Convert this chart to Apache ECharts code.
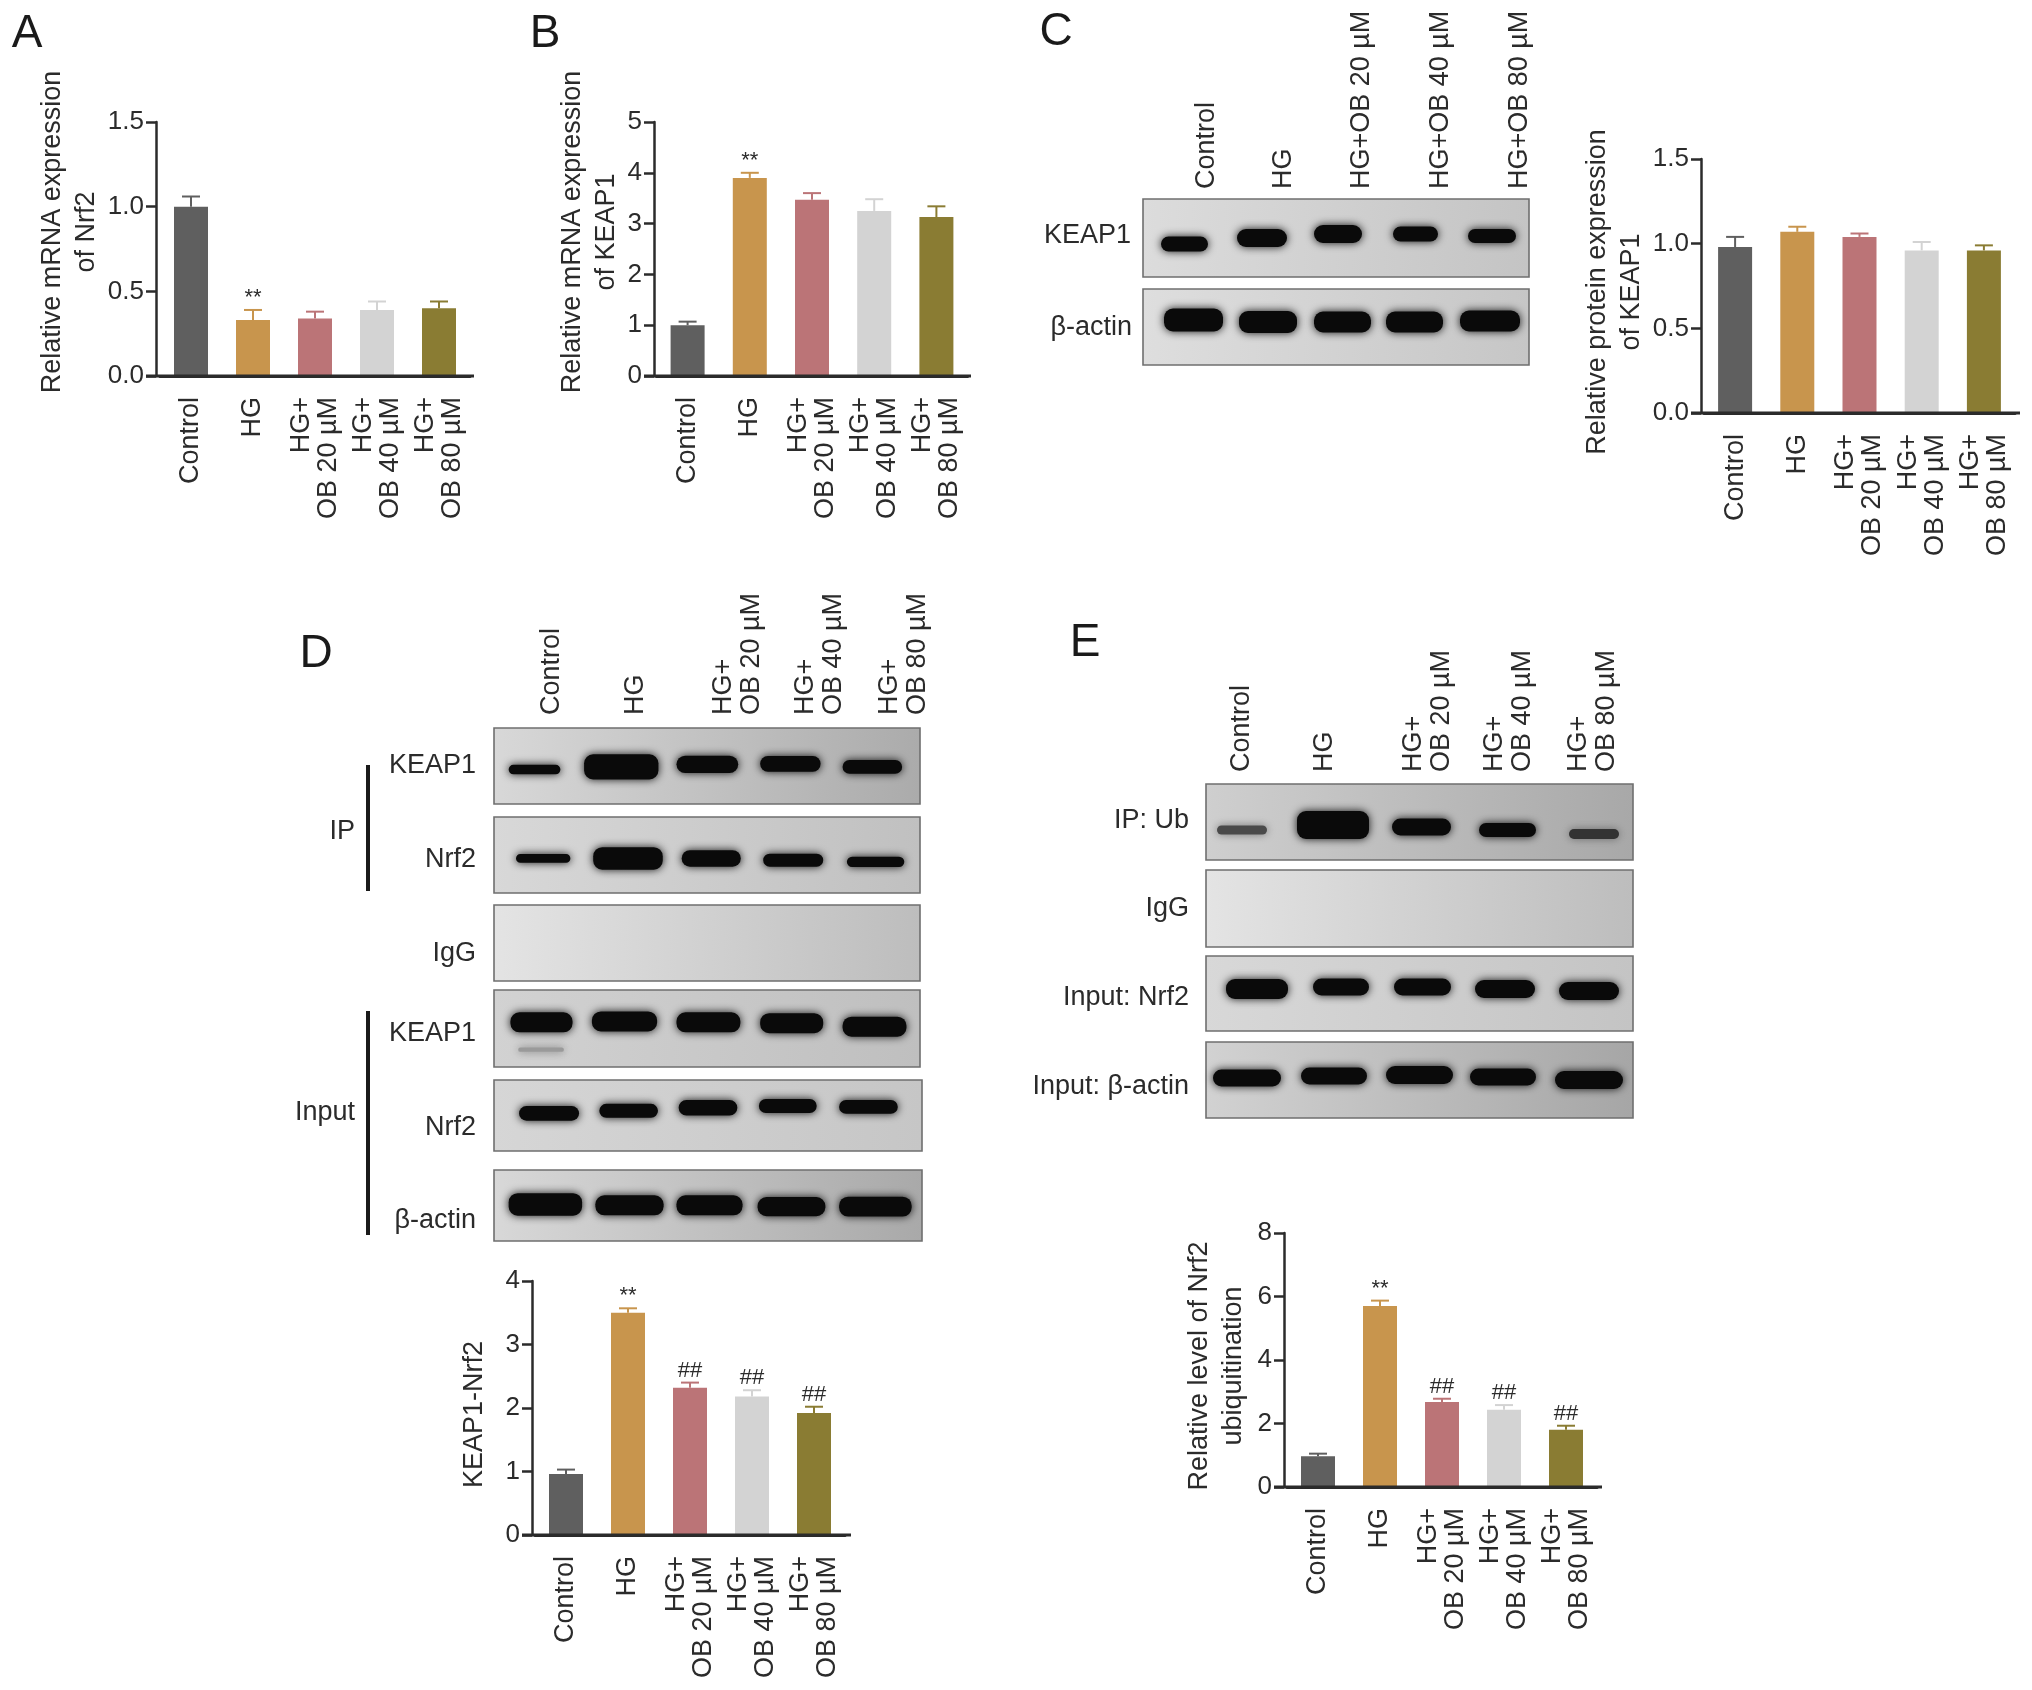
<!DOCTYPE html>
<html><head><meta charset="utf-8">
<style>html,body{margin:0;padding:0;background:#fff}#c{width:2032px;height:1690px;filter:blur(0.5px)}</style>
<script src="https://cdn.jsdelivr.net/npm/echarts@6/dist/echarts.min.js"></script>
</head><body><div id="c"></div>
<script>
// ---- chart data ----
const categories = ['Control', 'HG', 'HG+\nOB 20 µM', 'HG+\nOB 40 µM', 'HG+\nOB 80 µM'];
const nrf2Mrna      = [1.00, 0.33, 0.34, 0.39, 0.40];
const nrf2MrnaErr   = [0.06, 0.06, 0.04, 0.05, 0.04];
const keap1Mrna     = [1.00, 3.90, 3.47, 3.25, 3.13];
const keap1MrnaErr  = [0.07, 0.10, 0.13, 0.23, 0.21];
const keap1Prot     = [0.98, 1.07, 1.04, 0.96, 0.96];
const keap1ProtErr  = [0.06, 0.03, 0.02, 0.05, 0.03];
const keapNrf       = [0.96, 3.50, 2.32, 2.18, 1.92];
const keapNrfErr    = [0.07, 0.07, 0.08, 0.10, 0.10];
const ubiq          = [0.97, 5.70, 2.68, 2.43, 1.80];
const ubiqErr       = [0.08, 0.17, 0.10, 0.15, 0.13];
const marksA = ['', '**', '', '', ''];
const marksB = ['', '**', '', '', ''];
const marksC = ['', '', '', '', ''];
const marksD = ['', '**', '##', '##', '##'];
const marksE = ['', '**', '##', '##', '##'];
const barColors = ['#5f5f5f', '#c8954d', '#bb7477', '#d3d3d3', '#8a7c33'];

const FONT = '"Liberation Sans", Arial, sans-serif';
const INK = '#2b2b2b';

const panels = [
  {v:nrf2Mrna, e:nrf2MrnaErr, m:marksA, max:1.5, step:0.5, dec:1, name:'Relative mRNA expression\nof Nrf2', left:160, width:310, top:122, h:254, end:474, axisX:156, gap:43, pl:34, pr:0},
  {v:keap1Mrna, e:keap1MrnaErr, m:marksB, max:5, step:1, dec:0, name:'Relative mRNA expression\nof KEAP1', left:656.5, width:311, top:122, h:254, end:971, axisX:654, gap:27, pl:34, pr:0},
  {v:keap1Prot, e:keap1ProtErr, m:marksC, max:1.5, step:0.5, dec:1, name:'Relative protein expression\nof KEAP1', left:1704, width:311, top:159, h:254, end:2020, axisX:1701, gap:49, pl:0, pr:12},
  {v:keapNrf, e:keapNrfErr, m:marksD, max:4, step:1, dec:0, name:'KEAP1-Nrf2', left:535, width:310, top:1281, h:254, end:851, axisX:532, gap:40, pl:0, pr:13},
  {v:ubiq, e:ubiqErr, m:marksE, max:8, step:2, dec:0, name:'Relative level of Nrf2\nubiquitination', left:1287, width:310, top:1233, h:254, end:1602, axisX:1284, gap:33, pl:0, pr:12}
];

const grid = [], xAxis = [], yAxis = [], series = [], graphic = [];

panels.forEach((p, i) => {
  grid.push({left:p.left, top:p.top, width:p.width, height:p.h, containLabel:false});
  xAxis.push({type:'category', gridIndex:i,
    data:categories.map(c => ({value:c, textStyle:{padding:c.includes('\n') ? [0,0,3,0] : [4,0,0,0]}})),
    axisLine:{lineStyle:{color:INK, width:3}},
    axisTick:{alignWithLabel:true, length:10, lineStyle:{color:INK, width:2.5}},
    axisLabel:{rotate:90, interval:0, margin:21, fontSize:27, lineHeight:27, fontFamily:FONT, color:INK}});
  yAxis.push({type:'value', gridIndex:i, min:0, max:p.max, interval:p.step, offset:p.left - p.axisX,
    name:p.name, nameLocation:'middle', nameGap:p.gap,
    nameTextStyle:{fontSize:27, lineHeight:34, fontFamily:FONT, color:INK, padding:[0,p.pr,0,p.pl]},
    splitLine:{show:false},
    axisLine:{show:true, lineStyle:{color:INK, width:2.5}},
    axisTick:{show:true, length:10, lineStyle:{color:INK, width:2.5}},
    axisLabel:{margin:12, fontSize:26, fontFamily:FONT, color:INK, padding:[8,0,0,0],
      formatter: val => val.toFixed(p.dec)}});
  series.push({type:'bar', xAxisIndex:i, yAxisIndex:i, barWidth:34, silent:true,
    data:p.v.map((val, k) => ({value:val, itemStyle:{color:barColors[k]}}))});
  series.push({type:'custom', xAxisIndex:i, yAxisIndex:i, silent:true, z:3,
    encode:{x:0, y:1},
    data:p.v.map((val, k) => [k, val, val + p.e[k]]),
    renderItem:(params, api) => {
      const k = api.value(0);
      const a = api.coord([k, api.value(1)]);
      const b = api.coord([k, api.value(2)]);
      const col = barColors[k];
      const kids = [
        {type:'line', shape:{x1:a[0], y1:a[1], x2:b[0], y2:b[1]}, style:{stroke:col, lineWidth:2}},
        {type:'line', shape:{x1:b[0]-9, y1:b[1], x2:b[0]+9, y2:b[1]}, style:{stroke:col, lineWidth:2}}
      ];
      const mark = p.m[k];
      if (mark) kids.push({type:'text', x:b[0], y:b[1]-1,
        style:{text:mark, fill:INK, font:'22px '+FONT, align:'center', verticalAlign:'bottom'}});
      return {type:'group', children:kids};
    }});
  // baseline running past the y axis and to the right, as in the figure
  graphic.push({type:'line', shape:{x1:p.axisX-10, y1:p.top+p.h, x2:p.end, y2:p.top+p.h}, style:{stroke:INK, lineWidth:3}, z:5});
});

// ---- panel letters ----
[['A',27,34],['B',545,34],['C',1056,32],['D',316,654],['E',1085,643]].forEach(([t,x,y]) =>
  graphic.push({type:'text', x, y, style:{text:t, font:'46px '+FONT, fill:'#1a1a1a', align:'center', verticalAlign:'middle'}}));

// ---- helpers for the western-blot images ----
function blot(x0, x1, y0, y1, c0, c1, bands) {
  graphic.push({type:'rect', shape:{x:x0, y:y0, width:x1-x0, height:y1-y0},
    style:{fill:new echarts.graphic.LinearGradient(0,0,1,0.15,[{offset:0,color:c0},{offset:1,color:c1}]), stroke:'#6f6f6f', lineWidth:1.6}, z:1});
  bands.forEach(([a,b,yc,h,col]) => graphic.push({type:'rect',
    shape:{x:a+1, y:yc-h/2, width:b-a-2, height:h, r:Math.min(h/2,9)},
    style:{fill:col||'#0a0a0a', shadowBlur:9, shadowColor:col?'rgba(80,80,80,0.7)':'rgba(0,0,0,0.9)'}, z:2}));
}
function rightLabel(t, x, y) {
  graphic.push({type:'text', x, y:y+3, style:{text:t, font:'27px '+FONT, fill:INK, align:'right', verticalAlign:'middle'}, z:6});
}
function topLabel(t, x, y) {
  graphic.push({type:'text', x:x+3, y, rotation:Math.PI/2,
    style:{text:t, font:'27px '+FONT, lineHeight:28, fill:INK, align:'left', verticalAlign:'middle'}, z:6});
}

// ---- panel C blots ----
blot(1143,1529,199,277,'#dcdcdc','#c4c4c4',[[1160,1209,244,15],[1236,1288,238,18],[1313,1363,234,18],[1392,1439,234,15],[1467,1517,236,14]]);
blot(1143,1529,289,365,'#dedede','#c6c6c6',[[1163,1224,320,23],[1238,1298,322,22],[1313,1372,322,21],[1385,1444,322,21],[1459,1521,321,21]]);
rightLabel('KEAP1',1131,233); rightLabel('β-actin',1132,325);
[['Control',1204],['HG',1281],['HG+OB 20 µM',1359],['HG+OB 40 µM',1438],['HG+OB 80 µM',1517]].forEach(([t,x]) => topLabel(t,x,189));

// ---- panel D blots ----
const zx = v => 270 + v/2.306, zy = v => 580 + v/2.306;
const dRow = (rows) => rows.map(([a,b,c,h,col]) => [zx(a),zx(b),zy(c),h/2.306,col]);
blot(494,920,728,804,'#d8d8d8','#ababab',dRow([[548,672,437,22],[722,898,431,58],[935,1082,425,40],[1128,1272,424,36],[1318,1460,431,32]]));
blot(494,920,817,893,'#d8d8d8','#c0c0c0',dRow([[565,695,642,20],[743,908,642,52],[947,1088,642,38],[1135,1278,646,30],[1328,1465,650,24]]));
blot(494,920,905,981,'#e4e4e4','#bdbdbd',[]);
blot(494,920,990,1067,'#d2d2d2','#bfbfbf',dRow([[570,680,1083,10,'#9a9a9a'],[552,700,1020,46],[740,895,1018,46],[935,1087,1020,46],[1128,1278,1022,46],[1318,1470,1030,46]]));
blot(494,922,1080,1151,'#d6d6d6','#c6c6c6',dRow([[572,715,1230,34],[757,897,1224,32],[940,1080,1217,36],[1125,1263,1213,32],[1310,1450,1215,32]]));
blot(494,922,1170,1241,'#d8d8d8','#a9a9a9',dRow([[548,722,1440,52],[748,910,1442,46],[935,1092,1442,46],[1122,1283,1445,44],[1310,1482,1445,46]]));
rightLabel('KEAP1',476,763); rightLabel('Nrf2',476,857); rightLabel('IgG',476,951);
rightLabel('KEAP1',476,1031); rightLabel('Nrf2',476,1125); rightLabel('β-actin',476,1218);
rightLabel('IP',355,829); rightLabel('Input',355,1110);
graphic.push({type:'line', shape:{x1:368,y1:765,x2:368,y2:891}, style:{stroke:'#1a1a1a',lineWidth:4}});
graphic.push({type:'line', shape:{x1:368,y1:1011,x2:368,y2:1235}, style:{stroke:'#1a1a1a',lineWidth:4}});
[['Control',549],['HG',633],['HG+\nOB 20 µM',735],['HG+\nOB 40 µM',817],['HG+\nOB 80 µM',901]].forEach(([t,x]) => topLabel(t,x,715));

// ---- panel E blots ----
blot(1206,1633,784,860,'#cfcfcf','#a8a8a8',[[1216,1268,830,9,'#4a4a4a'],[1296,1370,825,28],[1391,1452,827,17],[1478,1537,830,14],[1568,1620,834,10,'#333']]);
blot(1206,1633,870,947,'#e4e4e4','#bdbdbd',[]);
blot(1206,1633,956,1031,'#d8d8d8','#c4c4c4',[[1225,1289,989,20],[1312,1370,987,17],[1393,1452,987,17],[1474,1536,989,18],[1558,1620,991,18]]);
blot(1206,1633,1042,1118,'#d2d2d2','#a6a6a6',[[1212,1282,1078,17],[1300,1368,1076,17],[1385,1454,1075,18],[1469,1537,1077,17],[1554,1624,1080,18]]);
rightLabel('IP: Ub',1189,818); rightLabel('IgG',1189,906); rightLabel('Input: Nrf2',1189,995); rightLabel('Input: β-actin',1189,1084);
[['Control',1239],['HG',1322],['HG+\nOB 20 µM',1425],['HG+\nOB 40 µM',1506],['HG+\nOB 80 µM',1590]].forEach(([t,x]) => topLabel(t,x,772));

const chart = echarts.init(document.getElementById('c'), null, {renderer:'canvas'});
chart.setOption({animation:false, backgroundColor:'#fff', grid, xAxis, yAxis, series, graphic});
</script></body></html>
